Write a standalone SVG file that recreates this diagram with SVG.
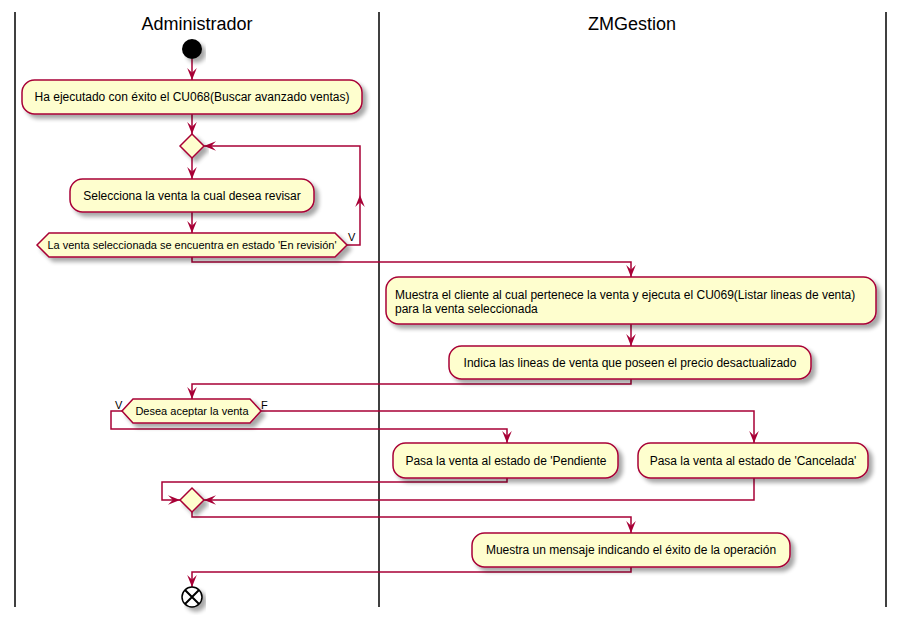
<svg xmlns="http://www.w3.org/2000/svg" width="903" height="622" viewBox="0 0 903 622">
<style>
.lane{stroke:#000;stroke-width:1.5;fill:none}
.title{font-family:"Liberation Sans",Arial,sans-serif;font-size:18px;fill:#000;text-anchor:middle}
.box{fill:#FEFECE;stroke:#A80036;stroke-width:1.5;filter:url(#sh)}
.t{font-family:"Liberation Sans",Arial,sans-serif;font-size:12px;fill:#000;text-anchor:middle}
.tl{font-family:"Liberation Sans",Arial,sans-serif;font-size:12px;fill:#000}
.ts{font-family:"Liberation Sans",Arial,sans-serif;font-size:11px;fill:#000;text-anchor:middle}
.lbl{font-family:"Liberation Sans",Arial,sans-serif;font-size:11px;fill:#000}
.c{stroke:#A80036;stroke-width:1.5;fill:none}
.a{stroke:#A80036;stroke-width:1.5;fill:none;marker-end:url(#ah)}
</style>
<defs>
<filter id="sh" x="-10%" y="-20%" width="130%" height="160%">
<feGaussianBlur in="SourceAlpha" stdDeviation="2"/>
<feOffset dx="4" dy="4" result="b"/>
<feComponentTransfer><feFuncA type="linear" slope="0.35"/></feComponentTransfer>
<feMerge><feMergeNode/><feMergeNode in="SourceGraphic"/></feMerge>
</filter>
<marker id="ah" markerUnits="userSpaceOnUse" markerWidth="12" markerHeight="10" viewBox="0 0 10 8" refX="10" refY="4" orient="auto">
<path d="M0,0 L10,4 L0,8 L4,4 Z" fill="#A80036"/>
</marker>
</defs>

<g id="lanes">
<line class="lane" x1="15" y1="12" x2="15" y2="607"/>
<line class="lane" x1="379" y1="12" x2="379" y2="607"/>
<line class="lane" x1="886" y1="12" x2="886" y2="607"/>
<text class="title" x="197" y="30">Administrador</text>
<text class="title" x="632" y="30">ZMGestion</text>
</g>

<g id="connectors">
<path class="a" d="M192,59 L192,80"/>
<path class="a" d="M192,114 L192,134"/>
<path class="a" d="M192,158 L192,179"/>
<path class="a" d="M192,212 L192,233"/>
<path class="a" d="M347,245 L360,245 L360,195"/>
<path class="a" d="M360,195 L360,146 L204,146"/>
<path class="a" d="M192,257 L192,262 L631,262 L631,277"/>
<path class="a" d="M631,324 L631,346"/>
<path class="a" d="M631,379 L631,384 L192,384 L192,399"/>
<path class="a" d="M122,411 L111,411 L111,429 L507,429 L507,443"/>
<path class="a" d="M261,411 L754,411 L754,443"/>
<path class="a" d="M507,478 L507,482 L162,482 L162,500 L180,500"/>
<path class="a" d="M754,478 L754,500 L204,500"/>
<path class="a" d="M192,512 L192,517 L631,517 L631,533"/>
<path class="a" d="M631,567 L631,572 L192,572 L192,587"/>
</g>

<g id="start"><circle cx="192" cy="49" r="10" fill="#000" filter="url(#sh)"/></g>

<g id="n1">
<rect class="box" x="22" y="80" width="340" height="34" rx="12.5"/>
<text class="t" x="192" y="101">Ha ejecutado con éxito el CU068(Buscar avanzado ventas)</text>
</g>

<g id="d1"><polygon class="box" points="180,146 192,134 204,146 192,158"/></g>

<g id="n2">
<rect class="box" x="70" y="179" width="244" height="33" rx="12.5"/>
<text class="t" x="192" y="200">Selecciona la venta la cual desea revisar</text>
</g>

<g id="h1">
<polygon class="box" points="37,245 49,233 335,233 347,245 335,257 49,257"/>
<text class="ts" x="192" y="249">La venta seleccionada se encuentra en estado 'En revisión'</text>
<text class="lbl" x="348" y="241">V</text>
</g>

<g id="n3">
<rect class="box" x="386" y="277" width="490" height="47" rx="12.5"/>
<text class="tl" x="395" y="299">Muestra el cliente al cual pertenece la venta y ejecuta el CU069(Listar lineas de venta)</text>
<text class="tl" x="395" y="313">para la venta seleccionada</text>
</g>

<g id="n4">
<rect class="box" x="449" y="346" width="362" height="33" rx="12.5"/>
<text class="t" x="630" y="367">Indica las lineas de venta que poseen el precio desactualizado</text>
</g>

<g id="h2">
<polygon class="box" points="122,411 133,399 250,399 261,411 250,423 133,423"/>
<text class="ts" x="192" y="415">Desea aceptar la venta</text>
<text class="lbl" x="115" y="409">V</text>
<text class="lbl" x="261" y="409">F</text>
</g>

<g id="n5">
<rect class="box" x="393" y="443" width="225" height="35" rx="12.5"/>
<text class="t" x="506" y="465">Pasa la venta al estado de 'Pendiente</text>
</g>

<g id="n6">
<rect class="box" x="638" y="443" width="230" height="35" rx="12.5"/>
<text class="t" x="753" y="465">Pasa la venta al estado de 'Cancelada'</text>
</g>

<g id="d2"><polygon class="box" points="180,500 192,488 204,500 192,512"/></g>

<g id="n7">
<rect class="box" x="472" y="533" width="318" height="34" rx="12.5"/>
<text class="t" x="631" y="554">Muestra un mensaje indicando el éxito de la operación</text>
</g>

<g id="end">
<circle cx="192" cy="597" r="10" fill="#fff" stroke="#000" stroke-width="1.5" filter="url(#sh)"/>
<path d="M185,590 L199,604 M199,590 L185,604" stroke="#000" stroke-width="2"/>
</g>
</svg>
